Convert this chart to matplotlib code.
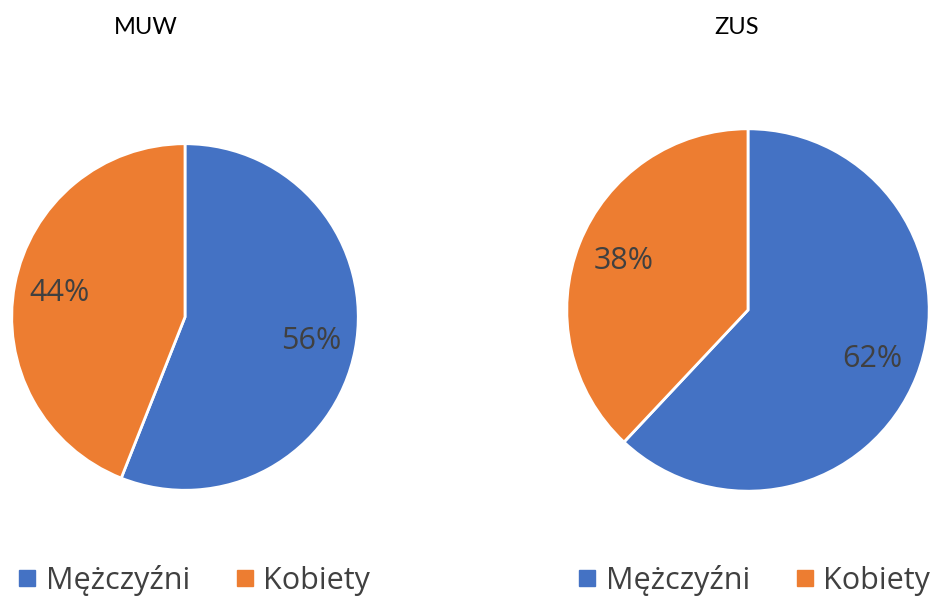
import matplotlib
matplotlib.use("Agg")
import matplotlib.pyplot as plt
from matplotlib.lines import Line2D

categories = ["Mężczyźni", "Kobiety"]
titles = ["MUW", "ZUS"]
muw_values = [56, 44]
zus_values = [62, 38]
colors = ["#4472C4", "#ED7D31"]

W, H = 936, 599
fig = plt.figure(figsize=(W / 100, H / 100), dpi=100)
plt.rcParams['font.family'] = ['Open Sans', 'DejaVu Sans']

def add_pie(cx, cy, r, values, title, title_x, legend_x):
    ax = fig.add_axes([(cx - r) / W, (H - cy - r) / H, 2 * r / W, 2 * r / H])
    wedges, texts, autotexts = ax.pie(
        values, colors=colors, startangle=90, counterclock=False,
        autopct=lambda p: f"{p:.0f}%", pctdistance=0.74,
        wedgeprops=dict(edgecolor="white", linewidth=2),
        textprops=dict(color="#404040", fontsize=22))
    ax.set_xlim(-1.01, 1.01)
    ax.set_ylim(-1.01, 1.01)
    ax.set_aspect("auto")
    fig.text(title_x / W, 1 - 28 / H, title, ha="center", va="center",
             fontsize=17, family=['Lato', 'DejaVu Sans'], color="#000000")
    handles = [Line2D([0], [0], marker="s", linestyle="", markersize=11,
                      markerfacecolor=c, markeredgecolor=c) for c in colors]
    fig.legend(handles, categories, loc="center", ncol=2,
               bbox_to_anchor=(legend_x / W, 1 - 580 / H), frameon=False,
               fontsize=22, labelcolor="#404040", handletextpad=0.3,
               columnspacing=1.5, handlelength=0.6)

add_pie(185, 317, 175, muw_values, titles[0], 146, 194)
add_pie(748, 310, 183, zus_values, titles[1], 737, 754)

fig.savefig("out.png", dpi=100)
